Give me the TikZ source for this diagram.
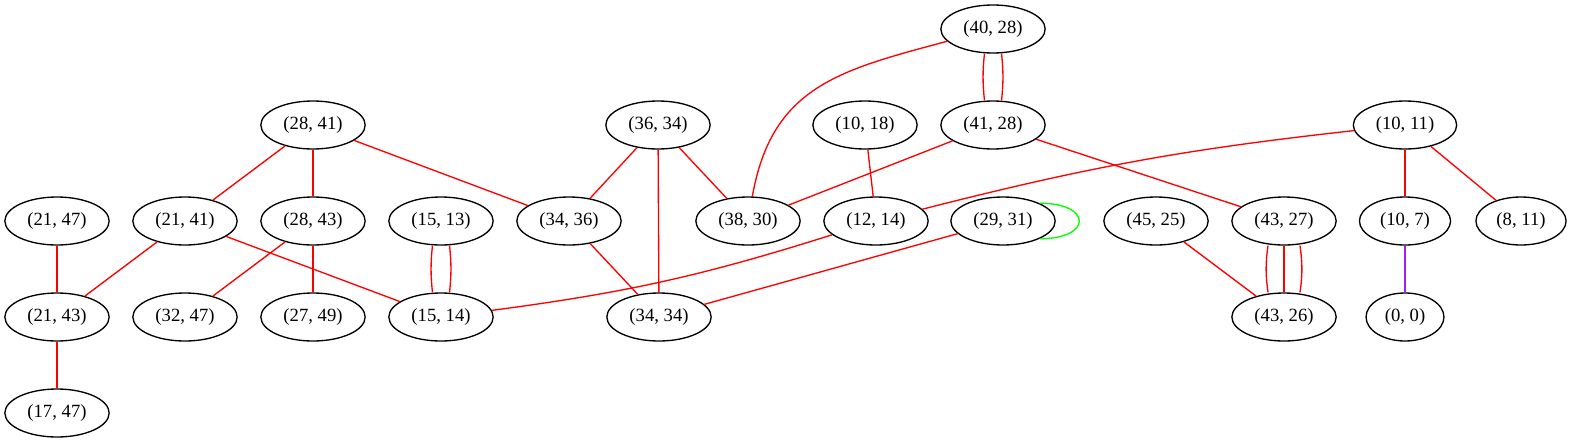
\documentclass[tikz,border=0pt]{standalone}
\usepackage{fontspec}
\setmainfont{Liberation Serif}
\usetikzlibrary{shapes.geometric}
\definecolor{gvpurple}{HTML}{A020F0}
\tikzset{
  pair/.style={ellipse, draw=black, line width=1pt, minimum height=36pt, inner xsep=5.5pt, inner ysep=0pt, font=\fontsize{14}{16}\selectfont},
  link/.style={red, line width=1pt},
  selfloop/.style={green, line width=1pt},
  purplelink/.style={gvpurple, line width=1pt}
}
\begin{document}
\begin{tikzpicture}[x=0.75pt, y=0.75pt]
  \useasboundingbox (0,0) rectangle (1573,-443);
  % rank 0 and 1
  \node[pair] (v4028) at (993,-29) {(40, 28)};
  \node[pair] (v2841) at (313,-125) {(28, 41)};
  \node[pair] (v3634) at (658,-125) {(36, 34)};
  \node[pair] (v1018) at (865,-125) {(10, 18)};
  \node[pair] (v4128) at (993,-125) {(41, 28)};
  \node[pair] (v1011) at (1405,-125) {(10, 11)};
  % rank 2
  \node[pair] (v2147) at (57,-221) {(21, 47)};
  \node[pair] (v2141) at (185,-221) {(21, 41)};
  \node[pair] (v2843) at (313,-221) {(28, 43)};
  \node[pair] (v1513) at (441,-221) {(15, 13)};
  \node[pair] (v3436) at (569,-221) {(34, 36)};
  \node[pair] (v3830) at (748,-221) {(38, 30)};
  \node[pair] (v1214) at (876,-221) {(12, 14)};
  \node[pair] (v2931) at (1003,-221) {(29, 31)};
  \node[pair] (v4525) at (1156,-221) {(45, 25)};
  \node[pair] (v4327) at (1284,-221) {(43, 27)};
  \node[pair] (v107) at (1405,-221) {(10, 7)};
  \node[pair] (v811) at (1521,-221) {(8, 11)};
  % rank 3 and 4
  \node[pair] (v2143) at (57,-317) {(21, 43)};
  \node[pair] (v3247) at (185,-317) {(32, 47)};
  \node[pair] (v2749) at (313,-317) {(27, 49)};
  \node[pair] (v1514) at (441,-317) {(15, 14)};
  \node[pair] (v3434) at (659,-317) {(34, 34)};
  \node[pair] (v4326) at (1284,-317) {(43, 26)};
  \node[pair] (v00) at (1405,-317) {(0, 0)};
  \node[pair] (v1747) at (57,-413) {(17, 47)};
  % edges
  \draw[link] ([xshift=-6.4pt]v4028.south) to[bend right=6] ([xshift=-6.4pt]v4128.north);
  \draw[link] ([xshift=6.4pt]v4028.south) to[bend left=6] ([xshift=6.4pt]v4128.north);
  \draw[link] (v4028) to[out=195, in=80, looseness=1.15] (v3830);
  \draw[link] (v2841) -- (v2141); \draw[link] (v2841) -- (v2843); \draw[link] (v2841) -- (v3436);
  \draw[link] (v3634) -- (v3436); \draw[link] (v3634) -- (v3434); \draw[link] (v3634) -- (v3830);
  \draw[link] (v1018) -- (v1214);
  \draw[link] (v4128) -- (v3830); \draw[link] (v4128) -- (v4327);
  \draw[link] (v1011) to[bend right=4] (v1214);
  \draw[link] (v1011) -- (v107); \draw[link] (v1011) -- (v811);
  \draw[link] (v2147) -- (v2143);
  \draw[link] (v2141) -- (v2143); \draw[link] (v2141) -- (v1514);
  \draw[link] (v2843) -- (v3247); \draw[link] (v2843) -- (v2749);
  \draw[link] ([xshift=-6.4pt]v1513.south) to[bend right=6] ([xshift=-6.4pt]v1514.north);
  \draw[link] ([xshift=6.4pt]v1513.south) to[bend left=6] ([xshift=6.4pt]v1514.north);
  \draw[link] (v3436) -- (v3434);
  \draw[link] (v1214) to[bend left=5] (v1514);
  \draw[link] (v2931) -- (v3434);
  \draw[selfloop] (v2931.26) .. controls +(53,0) and +(53,0) .. (v2931.-26);
  \draw[link] (v4525) -- (v4326);
  \draw[link] ([xshift=-12pt]v4327.south) to[bend right=8] ([xshift=-12pt]v4326.north);
  \draw[link] (v4327) -- (v4326);
  \draw[link] ([xshift=12pt]v4327.south) to[bend left=8] ([xshift=12pt]v4326.north);
  \draw[purplelink] (v107) -- (v00);
  \draw[link] (v2143) -- (v1747);
\end{tikzpicture}
\end{document}
